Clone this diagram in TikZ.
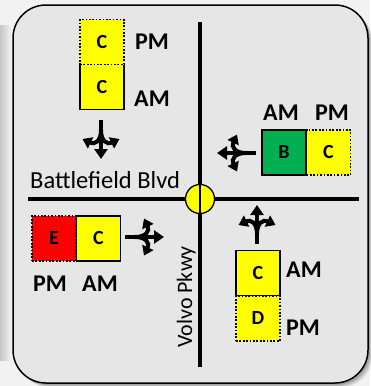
\documentclass[tikz,border=0pt]{standalone}
\usepackage{fontspec}
\setmainfont{Carlito}
\usetikzlibrary{arrows.meta}
\definecolor{panel}{HTML}{E6E6E6}
\definecolor{outside}{HTML}{F2F2F2}
\definecolor{losyellow}{HTML}{FFFF00}
\definecolor{losgreen}{HTML}{00B050}
\definecolor{losred}{HTML}{FF0000}
\tikzset{
  losbox/.style={draw=black, line width=1.4pt, minimum width=44pt, minimum height=45pt, inner sep=0pt,
    font=\fontsize{20}{20}\selectfont\bfseries},
  solidbox/.style={losbox},
  dotbox/.style={losbox, dash pattern=on 1.7pt off 1.7pt},
  perlabel/.style={font=\fontsize{24}{24}\selectfont\bfseries, inner sep=0pt},
  road/.style={line width=4pt},
  lanearrow/.pic={
    \draw[line width=4.4pt] (0,20) -- (0,6);
    \draw[line width=4.4pt,-{Triangle[width=13pt,length=10pt]}] (0,7) -- (0,-19);
    \draw[line width=4pt,-{Triangle[width=12pt,length=9pt]}] (0,10) .. controls (0,-1) and (-6,-5) .. (-18.5,1);
    \draw[line width=4pt,-{Triangle[width=12pt,length=9pt]}] (0,10) .. controls (0,-1) and (6,-5) .. (18.5,1);
  }
}
\begin{document}
\begin{tikzpicture}[x=1pt,y=-1pt]
\useasboundingbox (0,0) rectangle (370,386);
\fill[outside] (0,0) rectangle (370,386);
\shade[left color=gray!45, right color=outside] (0,25) rectangle (11,360);
% shadow of panel
\foreach \o/\a in {5/0.06,4/0.08,3/0.10,2/0.12}{
  \fill[black,opacity=\a,rounded corners=33pt] (13+\o,5+\o) rectangle (368+\o,383+\o);
}
\draw[fill=panel, line width=1.5pt, rounded corners=33pt] (13,5) rectangle (368,383);

% roads
\coordinate (vtop) at (200,22);
\coordinate (vbot) at (200,367);
\coordinate (wend) at (28,199);
\coordinate (eend) at (359,199);
\node[circle, draw=black, line width=1.3pt, fill=losyellow, minimum size=29pt, inner sep=0pt] (sig) at (200,199) {};
\draw[road] (wend) -- (sig.west);
\draw[road] (sig.east) -- (eend);
\draw[road] (vtop) -- (sig.north);
\draw[road] (sig.south) -- (vbot);
\draw[line width=2.4pt] (sig.north) -- (sig.south);

\node[font=\fontsize{24.5}{24.5}\selectfont, anchor=base west, inner sep=0pt] (blvd) at (30,188) {Battlefield Blvd};
\node[font=\fontsize{22}{22}\selectfont, rotate=90, anchor=base, inner sep=0pt] (pkwy) at (192,297) {Volvo Pkwy};

% north approach (southbound)
\node[solidbox, fill=losyellow] (nam) at (102,87) {C};
\node[dotbox, fill=losyellow] (npm) at (102,42) {C};
\node[perlabel] (npml) at (152,42) {PM};
\node[perlabel] (naml) at (152,99) {AM};
\pic at (101,140) [rotate=180] {lanearrow};

% east approach (westbound)
\node[solidbox, fill=losgreen] (eam) at (284,152.5) {B};
\node[dotbox, fill=losyellow] (epm) at (328.5,152.5) {C};
\node[perlabel] (eaml) at (281,113) {AM};
\node[perlabel] (epml) at (332,113) {PM};
\pic at (236,153) [rotate=90] {lanearrow};

% west approach (eastbound)
\node[solidbox, fill=losyellow] (wam) at (98.5,238.5) {C};
\node[dotbox, fill=losred] (wpm) at (54,238.5) {E};
\node[perlabel] (wpml) at (50,284) {PM};
\node[perlabel] (waml) at (100,284) {AM};
\pic at (145,237) [rotate=-90] {lanearrow};

% south approach (northbound)
\node[solidbox, fill=losyellow] (sam) at (258,273) {C};
\node[dotbox, fill=losyellow] (spm) at (258,318.5) {D};
\node[perlabel] (saml) at (304,270) {AM};
\node[perlabel] (spml) at (303,328) {PM};
\pic at (257,224) {lanearrow};
\end{tikzpicture}
\end{document}
